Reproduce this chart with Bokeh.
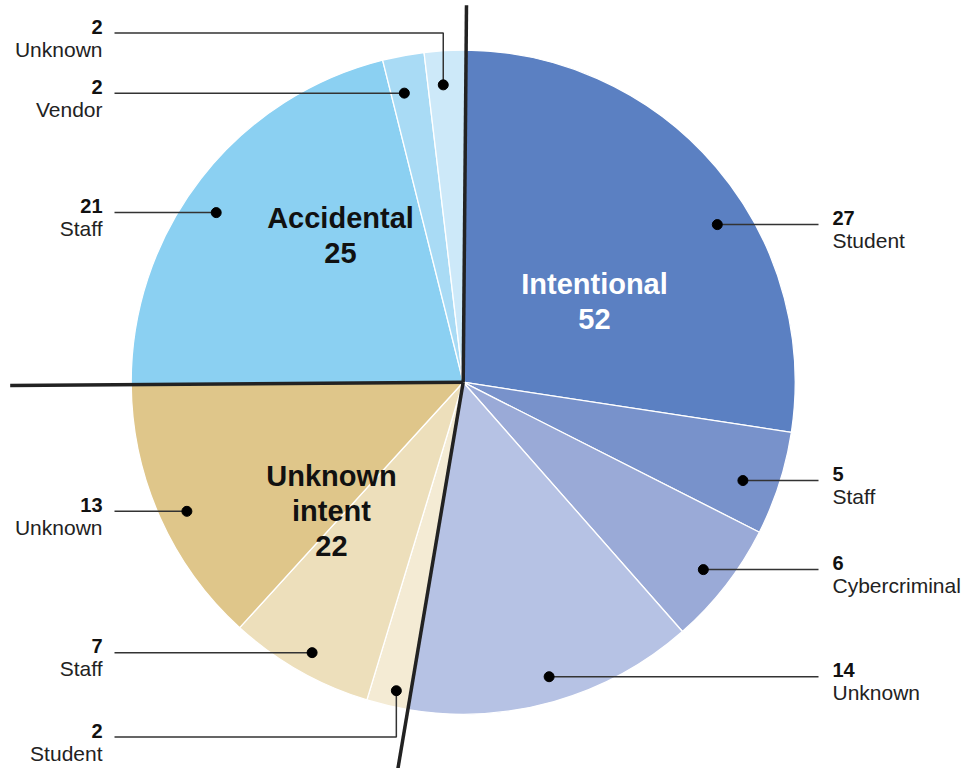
import math
from bokeh.plotting import figure
from bokeh.models import Range1d, ColumnDataSource
from bokeh.embed import file_html
from bokeh.resources import INLINE
from bokeh.core.properties import value

# ---------------- data ----------------
groups = ["Intentional", "Unknown intent", "Accidental"]
group_totals = [52, 22, 25]
sub_groups = ["Intentional"] * 4 + ["Unknown intent"] * 3 + ["Accidental"] * 3
sub_names = ["Student", "Staff", "Cybercriminal", "Unknown",
             "Student", "Staff", "Unknown",
             "Staff", "Vendor", "Unknown"]
sub_values = [27, 5, 6, 14, 2, 7, 13, 21, 2, 2]

# ---------------- style / layout ----------------
colors = ["#5B80C2", "#7892CB", "#9AAAD7", "#B6C2E4",
          "#F4EBD4", "#EDDFBB", "#DFC68A",
          "#8BD0F2", "#A9DBF5", "#CDE9F9"]
group_text_colors = ["#FFFFFF", "#111111", "#111111"]
FONT = "Liberation Sans"
W, H = 978, 768
OX, OY = 0, 0                # screen offset of the canvas
CX, CY_S = 462.7, 381.7      # pie centre (screen px)
R = 332
START = 0.5                  # start angle, degrees clockwise from 12 o'clock
sep_len = [377, 420, 453]    # length of the group separator lines
dot_shift = [8.6, 1.6, 0.2, -0.4, -1.0, -0.4, -1.0, -3.3, -1.1, -0.7]
dot_r = [299, 296.5, 304.6, 306.8, 315.7, 309.8, 305, 299.6, 295, 298]
label_side = ["right"] * 4 + ["left"] * 6
elbow_line_y = [None, None, None, None, 736.5, None, None, None, None, 32.5]
LEFT_TEXT_X, LEFT_LINE_X = 102, 114
RIGHT_TEXT_X, RIGHT_LINE_X = 832, 818
NUM_DY, NAME_DY = -6.5, 16       # text baseline offsets from the leader line
group_label_pos = [(594, 283.5), (331, 475), (340, 217)]
GROUP_LINE_H = 35


def sy2d(sy):
    return 768 - sy


cy = sy2d(CY_S)
total = sum(sub_values)
deg_per = 360.0 / total

p = figure(width=W, height=H, output_backend="svg", toolbar_location=None,
           x_axis_type=None, y_axis_type=None, min_border=0,
           x_range=Range1d(OX, OX + W), y_range=Range1d(sy2d(OY + H), sy2d(OY)))
p.outline_line_color = None
p.background_fill_color = "white"
p.border_fill_color = "white"

# wedges
starts, ends, mids = [], [], []
cum = 0
for v in sub_values:
    a0 = START + cum * deg_per
    cum += v
    a1 = START + cum * deg_per
    starts.append(math.radians(90 - a0))
    ends.append(math.radians(90 - a1))
    mids.append((a0 + a1) / 2)

src = ColumnDataSource(dict(x=[CX] * len(sub_values), y=[cy] * len(sub_values),
                            start=starts, end=ends, color=colors,
                            name=sub_names, group=sub_groups, val=sub_values))
p.wedge(x="x", y="y", radius=R, start_angle="start", end_angle="end",
        direction="clock", fill_color="color", line_color="white",
        line_width=1.3, source=src)

# group separators
gcum = 0
sx0, sy0, sx1, sy1 = [], [], [], []
for i, gt in enumerate(group_totals):
    ang = math.radians(START + gcum * deg_per)
    sx0.append(CX)
    sy0.append(cy)
    sx1.append(CX + sep_len[i] * math.sin(ang))
    sy1.append(cy + sep_len[i] * math.cos(ang))
    gcum += gt
p.segment(x0=sx0, y0=sy0, x1=sx1, y1=sy1, line_color="#222222",
          line_width=3.5, line_cap="butt")

# leader lines, dots, labels
xs, ys, dx, dy = [], [], [], []
lt = {"left": dict(x=[], yn=[], yl=[], n=[], l=[]),
      "right": dict(x=[], yn=[], yl=[], n=[], l=[])}
for i, (name, v) in enumerate(zip(sub_names, sub_values)):
    ang = math.radians(mids[i] + dot_shift[i])
    px = CX + dot_r[i] * math.sin(ang)
    py_s = CY_S - dot_r[i] * math.cos(ang)
    dx.append(px)
    dy.append(sy2d(py_s))
    side = label_side[i]
    if elbow_line_y[i] is None:
        line_y = py_s
        if side == "left":
            xs.append([LEFT_LINE_X, px])
        else:
            xs.append([px, RIGHT_LINE_X])
        ys.append([sy2d(line_y)] * 2)
    else:
        line_y = elbow_line_y[i]
        xs.append([LEFT_LINE_X, px, px])
        ys.append([sy2d(line_y), sy2d(line_y), sy2d(py_s)])
    d = lt[side]
    d["x"].append(LEFT_TEXT_X if side == "left" else RIGHT_TEXT_X)
    d["yn"].append(sy2d(line_y + NUM_DY))
    d["yl"].append(sy2d(line_y + NAME_DY))
    d["n"].append(str(v))
    d["l"].append(name)

p.multi_line(xs=xs, ys=ys, line_color="#333333", line_width=1.5)
p.scatter(x=dx, y=dy, size=10, fill_color="#000000", line_color="#000000")

for side, align in (("left", "right"), ("right", "left")):
    d = lt[side]
    p.text(x=d["x"], y=d["yn"], text=d["n"], text_font=value(FONT),
           text_font_size=value("20px"), text_font_style="bold",
           text_color="#111111", text_align=align, text_baseline="alphabetic")
    p.text(x=d["x"], y=d["yl"], text=d["l"], text_font=value(FONT),
           text_font_size=value("21px"), text_color="#222222",
           text_align=align, text_baseline="alphabetic")

# group labels
for i, g in enumerate(groups):
    lines = g.split(" ") if g == "Unknown intent" else [g]
    lines = lines + [str(group_totals[i])]
    gx, gy = group_label_pos[i]
    p.text(x=[gx] * len(lines),
           y=[sy2d(gy + k * GROUP_LINE_H) for k in range(len(lines))],
           text=lines, text_font=value(FONT), text_font_size=value("29px"),
           text_font_style="bold", text_color=group_text_colors[i],
           text_align="center", text_baseline="alphabetic")

open("out.html", "w").write(file_html(p, INLINE))
